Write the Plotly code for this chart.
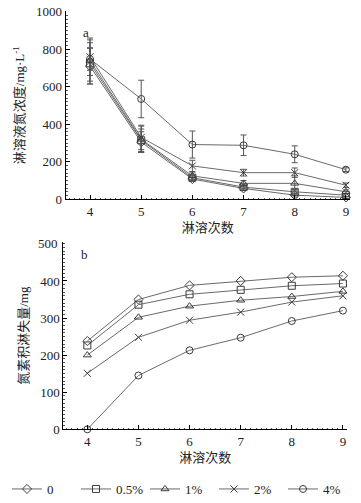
import plotly.graph_objects as go

leach_times = [4, 5, 6, 7, 8, 9]
series_names = ["0", "0.5%", "1%", "2%", "4%"]
symbols = {"0": "diamond-open", "0.5%": "square-open", "1%": "triangle-up-open",
           "2%": "x-thin-open", "4%": "circle-open"}

# panel a: leachate N concentration (mg/L) and error
conc_0 = [710, 305, 108, 58, 22, 10]
conc_05 = [725, 315, 115, 65, 40, 22]
conc_1 = [740, 320, 125, 85, 85, 40]
conc_2 = [760, 330, 178, 142, 142, 75]
conc_4 = [748, 535, 292, 288, 240, 158]
err_0 = [95, 55, 10, 8, 10, 5]
err_05 = [110, 60, 12, 10, 12, 8]
err_1 = [110, 70, 20, 15, 40, 10]
err_2 = [100, 65, 30, 18, 25, 12]
err_4 = [60, 100, 72, 55, 45, 10]

# panel b: cumulative N loss (mg)
cum_0 = [238, 350, 388, 400, 410, 414]
cum_05 = [226, 336, 364, 376, 387, 393]
cum_1 = [200, 302, 332, 348, 358, 372]
cum_2 = [151, 248, 294, 316, 343, 360]
cum_4 = [0, 145, 213, 247, 292, 320]

ticks_a = [0, 200, 400, 600, 800, 1000]
ticks_b = [0, 100, 200, 300, 400, 500]

conc = {"0": (conc_0, err_0), "0.5%": (conc_05, err_05), "1%": (conc_1, err_1),
        "2%": (conc_2, err_2), "4%": (conc_4, err_4)}
cum = {"0": cum_0, "0.5%": cum_05, "1%": cum_1, "2%": cum_2, "4%": cum_4}

W, H = 361, 503
SERIF = "Liberation Serif, Times New Roman, Noto Sans CJK SC, serif"
line_col = "#6a6a6a"
mk_col = "#3a3a3a"

fig = go.Figure()
for name in series_names:
    vals, err = conc[name]
    fig.add_trace(go.Scatter(
        x=leach_times, y=vals, mode="lines+markers", name=name, showlegend=False,
        line=dict(color=line_col, width=1),
        marker=dict(symbol=symbols[name], size=7, color=mk_col, line=dict(width=1, color=mk_col)),
        error_y=dict(type="data", array=err, visible=True, color="#555", thickness=1, width=3),
        cliponaxis=False, xaxis="x", yaxis="y"))
for name in series_names:
    fig.add_trace(go.Scatter(
        x=leach_times, y=cum[name], mode="lines+markers", name=name, showlegend=True,
        line=dict(color=line_col, width=1),
        marker=dict(symbol=symbols[name], size=7, color=mk_col, line=dict(width=1, color=mk_col)),
        cliponaxis=False, xaxis="x2", yaxis="y2"))

def px_x(a, b):
    return [a / W, b / W]

def px_y(top, bottom):
    return [1 - bottom / H, 1 - top / H]

def pt(x, y):
    return x / W, 1 - y / H

axis_common = dict(showline=True, linecolor="black", linewidth=1, mirror=False,
                   showgrid=False, zeroline=False, ticks="inside", ticklen=4,
                   tickcolor="black", automargin=False, ticklabeloverflow="allow",
                   tickfont=dict(family=SERIF, size=13, color="#222"))

ax_a, ay_a = pt(81, 23)
bx_b, by_b = pt(79, 254)
lx, ly = pt(7, 489)

# top tick label of panel b, which plotly drops at the domain edge
top_b = ticks_b[-1]
annotations = [
    dict(text="a", x=ax_a, y=ay_a, xref="paper", yref="paper", showarrow=False,
         font=dict(family=SERIF, size=13, color="#222")),
    dict(text="b", x=bx_b, y=by_b, xref="paper", yref="paper", showarrow=False,
         font=dict(family=SERIF, size=13, color="#222")),
    dict(text=str(top_b), x=59.8 / W, y=top_b, xref="paper", yref="y2",
         xanchor="right", yanchor="middle", showarrow=False,
         font=dict(family=SERIF, size=13, color="#222")),
]

fig.update_layout(
    width=W, height=H, margin=dict(l=0, r=0, t=0, b=0, autoexpand=False),
    paper_bgcolor="white", plot_bgcolor="white",
    font=dict(family=SERIF, size=13, color="#222"),
    xaxis=dict(domain=px_x(65.7, 350), range=[3.525, 9.08], anchor="y",
               tickvals=leach_times, ticktext=[str(v) for v in leach_times],
               title=dict(text="淋溶次数", font=dict(size=13), standoff=4),
               minor=dict(ticks="inside", ticklen=1.5, dtick=0.1, tickcolor="#555"),
               **axis_common),
    yaxis=dict(domain=px_y(11.0, 199.3), range=[0, 1004], anchor="x",
               tickvals=ticks_a, ticktext=[str(v) for v in ticks_a],
               title=dict(text="淋溶液氮浓度/mg·L<sup>-1</sup>", font=dict(size=13), standoff=8),
               minor=dict(ticks="inside", ticklen=2, dtick=20, tickcolor="#555"),
               **axis_common),
    xaxis2=dict(domain=px_x(63.3, 347), range=[3.53, 9.08], anchor="y2",
                tickvals=leach_times, ticktext=[str(v) for v in leach_times],
                title=dict(text="淋溶次数", font=dict(size=13), standoff=4),
                minor=dict(ticks="inside", ticklen=1.5, dtick=0.1, tickcolor="#555"),
                **axis_common),
    yaxis2=dict(domain=px_y(242.0, 429.3), range=[0, 505], anchor="x2",
                tickvals=ticks_b[:-1], ticktext=[str(v) for v in ticks_b[:-1]],
                title=dict(text="氮素积淋失量/mg", font=dict(size=13), standoff=8),
                minor=dict(ticks="inside", ticklen=2, dtick=10, tickcolor="#555"),
                **axis_common),
    legend=dict(orientation="h", x=lx, xanchor="left", y=ly, yanchor="middle",
                font=dict(family=SERIF, size=13, color="#222"),
                entrywidth=24, entrywidthmode="pixels", itemwidth=30, tracegroupgap=0,
                bgcolor="rgba(0,0,0,0)"),
    annotations=annotations,
)

fig.write_html("out.html", config={"displayModeBar": False},
               post_script="document.body.style.margin='0';")
